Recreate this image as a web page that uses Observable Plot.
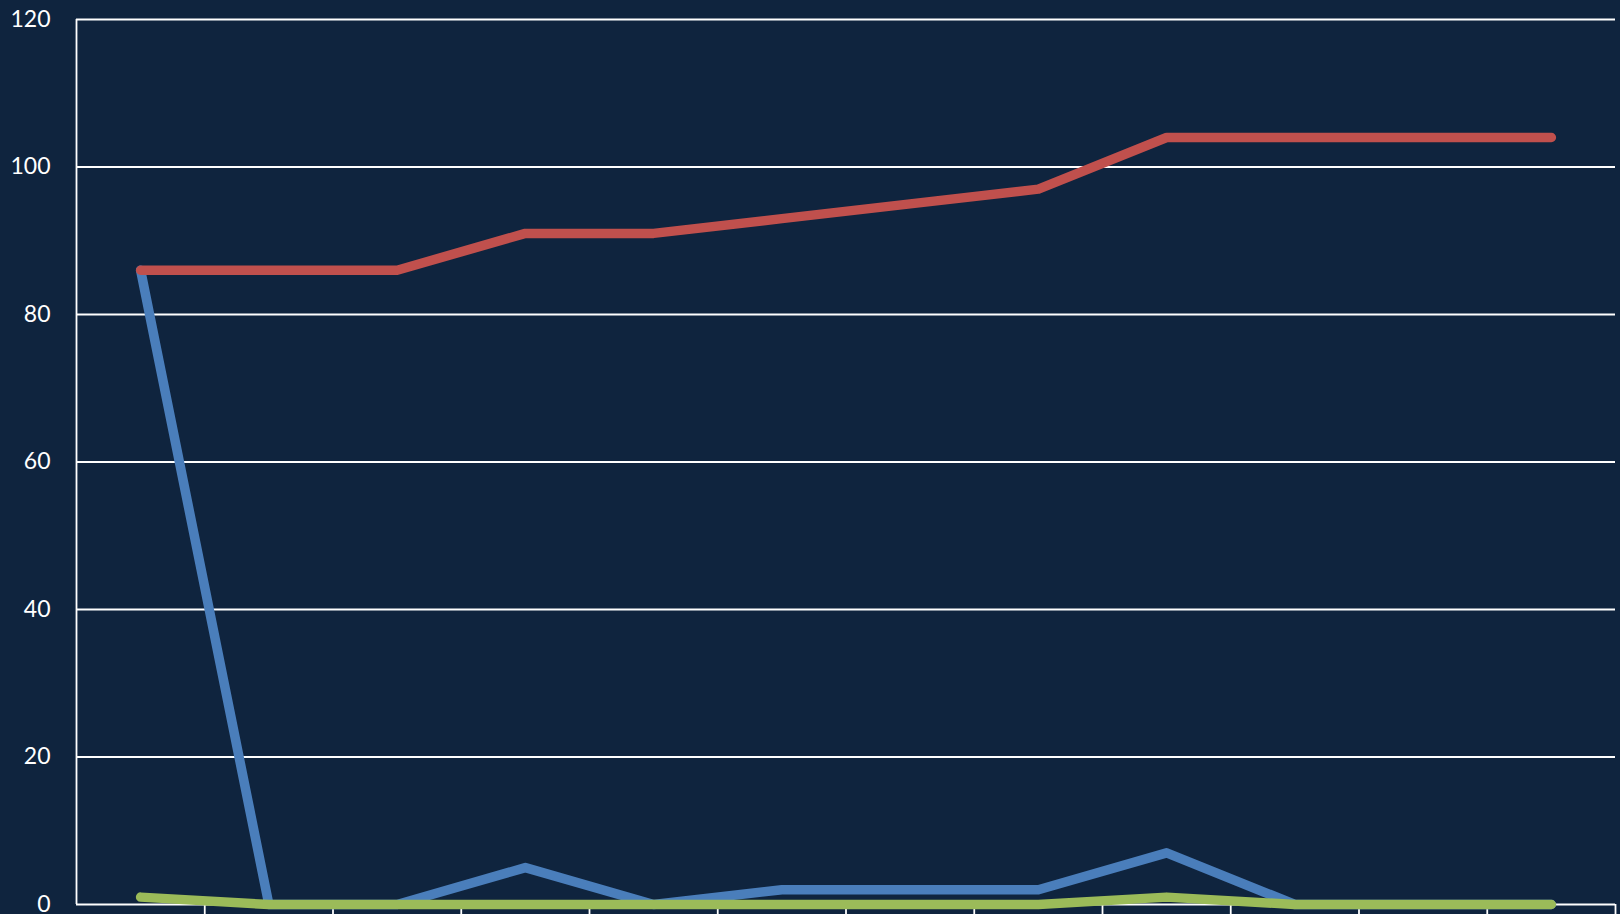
<!DOCTYPE html>
<html>
<head>
<meta charset="utf-8">
<script src="https://cdn.jsdelivr.net/npm/d3@7"></script>
<script src="https://cdn.jsdelivr.net/npm/@observablehq/plot@0.6"></script>
<style>
  html, body { margin: 0; padding: 0; background: #0F243E; overflow: hidden; }
  #chart { width: 1620px; height: 914px; }
</style>
</head>
<body>
<div id="chart"></div>
<script>
// 12 categories (labels are cut off in the reference)
const categoryIndex = [0, 1, 2, 3, 4, 5, 6, 7, 8, 9, 10, 11];
const blueValues  = [86, 0, 0, 5, 0, 2, 2, 2, 7, 0, 0, 0];
const redValues   = [86, 86, 86, 91, 91, 93, 95, 97, 104, 104, 104, 104];
const greenValues = [1, 0, 0, 0, 0, 0, 0, 0, 1, 0, 0, 0];
const yTicks = [0, 20, 40, 60, 80, 100, 120];
const xBoundaries = [1, 2, 3, 4, 5, 6, 7, 8, 9, 10, 11, 12];

const toRows = (vals) => categoryIndex.map((i) => ({ x: i + 0.5, y: vals[i] }));
const blue = toRows(blueValues);
const red = toRows(redValues);
const green = toRows(greenValues);

const lineOpts = { x: "x", y: "y", strokeWidth: 9.5, strokeLinecap: "round", strokeLinejoin: "round" };

const chart = Plot.plot({
  width: 1620,
  height: 914,
  marginLeft: 76,
  marginRight: 5,
  marginTop: 19,
  marginBottom: 10,
  style: { background: "#0F243E", color: "#ffffff", fontFamily: "Lato, 'Open Sans', sans-serif", fontSize: "23px", overflow: "visible" },
  x: { type: "linear", domain: [0, 12] },
  y: { type: "linear", domain: [0, 120] },
  marks: [
    Plot.ruleY(yTicks, { stroke: "#ffffff", strokeWidth: 1.8, strokeOpacity: 1 }),
    Plot.ruleX([0], { y1: 0, y2: 120, stroke: "#ffffff", strokeWidth: 1.8, strokeOpacity: 1 }),
    Plot.axisX({ ticks: xBoundaries, tickSize: 10, tickFormat: () => "", label: null, stroke: "#ffffff", strokeWidth: 1.8, strokeOpacity: 1 }),
    Plot.axisY({ ticks: yTicks, tickSize: 0, tickPadding: 26, fontSize: 23, fill: "#ffffff", label: null, tickFormat: (d) => String(d) }),
    Plot.line(blue, { ...lineOpts, stroke: "#4A7EBB" }),
    Plot.line(red, { ...lineOpts, stroke: "#C0504D" }),
    Plot.line(green, { ...lineOpts, stroke: "#9BBB59" })
  ]
});
document.getElementById("chart").appendChild(chart);
</script>
</body>
</html>
